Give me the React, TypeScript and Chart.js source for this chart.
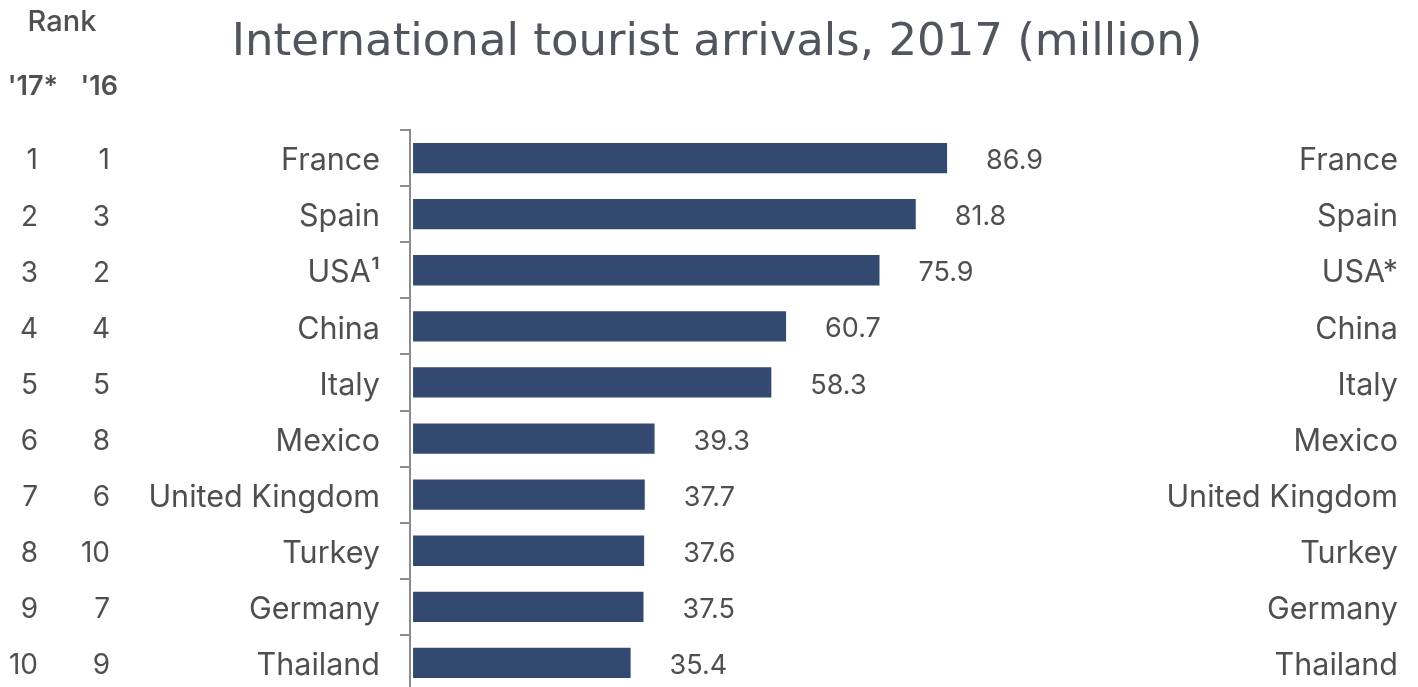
import React, { useEffect, useRef } from "react";
import { Chart, registerables } from "chart.js";

Chart.register(...registerables);

const countries = ["France", "Spain", "USA¹", "China", "Italy", "Mexico", "United Kingdom", "Turkey", "Germany", "Thailand"];
const countriesRight = ["France", "Spain", "USA*", "China", "Italy", "Mexico", "United Kingdom", "Turkey", "Germany", "Thailand"];
const arrivals = [86.9, 81.8, 75.9, 60.7, 58.3, 39.3, 37.7, 37.6, 37.5, 35.4];
const rank17 = ["1", "2", "3", "4", "5", "6", "7", "8", "9", "10"];
const rank16 = ["1", "3", "2", "4", "5", "8", "6", "10", "7", "9"];
const titleText = "International tourist arrivals, 2017 (million)";
const rankHeader = "Rank";
const rankCols = ["'17*", "'16"];

const FONT = "Inter, 'Open Sans', sans-serif";
const TITLE_FONT = "'DejaVu Sans', sans-serif";
const TEXT = "#4f4f4f";

const overlay = {
  id: "overlay",
  afterDraw(chart: any) {
    const ctx = chart.ctx;
    const y = chart.scales.y;
    const meta = chart.getDatasetMeta(0);
    ctx.save();
    // title
    ctx.fillStyle = "#51555e";
    ctx.font = `400 45px ${TITLE_FONT}`;
    ctx.textAlign = "center";
    ctx.textBaseline = "alphabetic";
    ctx.fillText(titleText, 717, 55);
    // rank headers
    ctx.fillStyle = "#505050";
    ctx.font = `500 29px ${FONT}`;
    ctx.fillText(rankHeader, 62, 31);
    ctx.font = `600 27px ${FONT}`;
    ctx.textAlign = "right";
    ctx.fillText(rankCols[0], 58, 95);
    ctx.fillText(rankCols[1], 118, 95);
    // per row
    ctx.textBaseline = "middle";
    for (let i = 0; i < countries.length; i++) {
      const py = y.getPixelForValue(i) + 3;
      ctx.fillStyle = TEXT;
      ctx.font = `400 28px ${FONT}`;
      ctx.textAlign = "right";
      ctx.fillText(rank17[i], 38, py);
      ctx.fillText(rank16[i], 110, py);
      ctx.font = `400 30.5px ${FONT}`;
      ctx.fillText(countriesRight[i], 1398, py);
      ctx.textAlign = "left";
      ctx.font = `400 27px ${FONT}`;
      const bar = meta.data[i];
      ctx.fillText(arrivals[i].toFixed(1), bar.x + 39, py);
    }
    ctx.restore();
  },
};

export default function App() {
  const ref = useRef<HTMLCanvasElement>(null);
  useEffect(() => {
    const canvas = ref.current!;
    const chart = new Chart(canvas, {
      type: "bar",
      data: {
        labels: countries,
        datasets: [
          {
            data: arrivals,
            backgroundColor: "#34496f",
            borderWidth: 0,
            barPercentage: 0.54,
            categoryPercentage: 1,
          },
        ],
      },
      options: {
        indexAxis: "y",
        responsive: false,
        animation: false,
        devicePixelRatio: 1,
        layout: { padding: { top: 130, bottom: 9, left: 0, right: 267.5 } },
        plugins: { legend: { display: false }, tooltip: { enabled: false }, title: { display: false } },
        scales: {
          x: { display: false, min: -0.5, max: 120 },
          y: {
            type: "category",
            afterFit(scale: any) {
              scale.width = 410;
              scale.paddingTop = 0;
              scale.paddingBottom = 0;
            },
            border: { display: true, color: "#8c8c8c", width: 2 },
            grid: { display: true, drawOnChartArea: false, drawTicks: true, tickLength: 10, color: "#8c8c8c", lineWidth: 2, offset: true },
            ticks: { color: TEXT, padding: 20, labelOffset: 3, font: { family: FONT, size: 30.5 }, autoSkip: false },
          },
        },
      },
      plugins: [overlay],
    });
    return () => chart.destroy();
  }, []);
  return (
    <div style={{ position: "fixed", left: 0, top: 0, width: 1418, height: 687, overflow: "hidden", background: "#fff" }}>
      <canvas ref={ref} width={1418} height={700} style={{ width: 1418, height: 700, display: "block" }} />
    </div>
  );
}
